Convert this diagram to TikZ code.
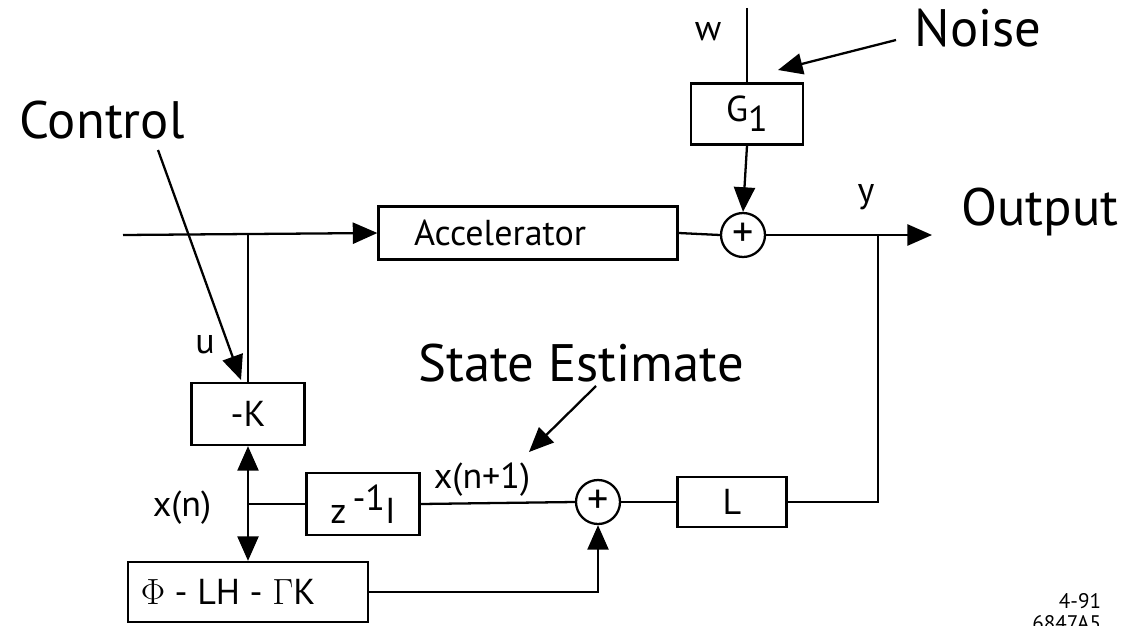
\documentclass[tikz,border=0pt]{standalone}
\usepackage{fontspec}
\setmainfont{PT Sans}
\usetikzlibrary{arrows.meta,calc,positioning}

\begin{document}
\begin{tikzpicture}[x=0.02cm,y=-0.02cm, line width=1.3pt,
    blk/.style={draw, rectangle, inner sep=0pt, font=\fontsize{20.5}{22}\selectfont},
    sumj/.style={draw, circle, minimum size=0.88cm, inner sep=0pt, font=\fontsize{24}{24}\selectfont},
    lbl/.style={font=\fontsize{20.5}{22}\selectfont},
    big/.style={font=\fontsize{30}{34}\selectfont},
    tip/.style={-{Triangle[length=14pt,width=12pt]}},
    duo/.style={{Triangle[length=14pt,width=12pt]}-{Triangle[length=14pt,width=12pt]}}]
      \useasboundingbox (0,0) rectangle (1124,625);
      % Blocks
      \node[blk, minimum width=5.98cm, minimum height=1.06cm] (acc) at (528,233) {Accelerator\hspace{1.12cm}\mbox{}};
      \node[blk, minimum width=2.24cm, minimum height=1.22cm] (g1) at (747,114) {G\raisebox{-0.55ex}{1}};
      \node[blk, minimum width=2.26cm, minimum height=1.24cm] (negk) at (248,414) {-K};
      \node[blk, minimum width=2.26cm, minimum height=1.24cm] (zdel) at (363,504) {z\,\raisebox{0.75ex}{-1}I};
      \node[blk, minimum width=2.18cm, minimum height=1.0cm] (lgain) at (732,502) {L};
      \node[blk, minimum width=4.8cm, minimum height=1.2cm] (loop) at (248,592) {$\Phi$ - LH - $\Gamma$K\hspace{0.8cm}\mbox{}};
      % Summing junctions
      \node[sumj] (sum1) at (743,235) {+};
      \node[sumj] (sum2) at (598,502) {+};
      % Define coordinates
      \coordinate (in) at (123,235);
      \coordinate (ju) at (248,235);
      \coordinate (jy) at (878,235);
      \coordinate (out) at (932,235);
      \coordinate (wtop) at (747,8);
      \coordinate (jx) at (248,504);
      % Signal flow
      \draw[tip] (in) -- (acc.west);
      \draw (ju) -- (negk.north);
      \draw (acc.east) -- (sum1.west);
      \draw[tip] (sum1.east) -- (out);
      \draw (jy) |- (lgain.east);
      \draw (wtop) -- (g1.north);
      \draw[tip] (g1.south) -- (sum1.north);
      \draw (lgain.west) -- (sum2.east);
      \draw (zdel.east) -- (sum2.west);
      \draw[tip] (loop.east) -| (sum2.south);
      \draw[duo] (negk.south) -- (loop.north);
      \draw (jx) -- (zdel.west);
      % Signal labels
      \node[lbl] (wl) at (708,32) {w};
      \node[lbl] (yl) at (866,197) {y};
      \node[lbl] (ul) at (205,345) {u};
      \node[lbl] (xn) at (182,508) {x(n)};
      \node[lbl] (xn1) at (482,480) {x(n+1)};
      % Annotations
      \node[big] (ctrl) at (102,120) {Control};
      \node[big] (noise) at (978,28) {Noise};
      \node[big] (outl) at (1040,212) {Output};
      \node[big] (state) at (581,363) {State Estimate};
      \coordinate (ctrlA) at (158,150);
      \coordinate (ctrlB) at (241,380);
      \coordinate (noiseA) at (896,40);
      \coordinate (noiseB) at (778,70);
      \coordinate (stateA) at (596,386);
      \coordinate (stateB) at (529,452);
      \draw[tip] (ctrlA) -- (ctrlB);
      \draw[tip] (noiseA) -- (noiseB);
      \draw[tip] (stateA) -- (stateB);
      % Drawing number
      \node[font=\fontsize{12}{13}\selectfont, align=right, anchor=north east] (dwg) at (1108,586) {4-91\\6847A5};
\end{tikzpicture}
\end{document}
